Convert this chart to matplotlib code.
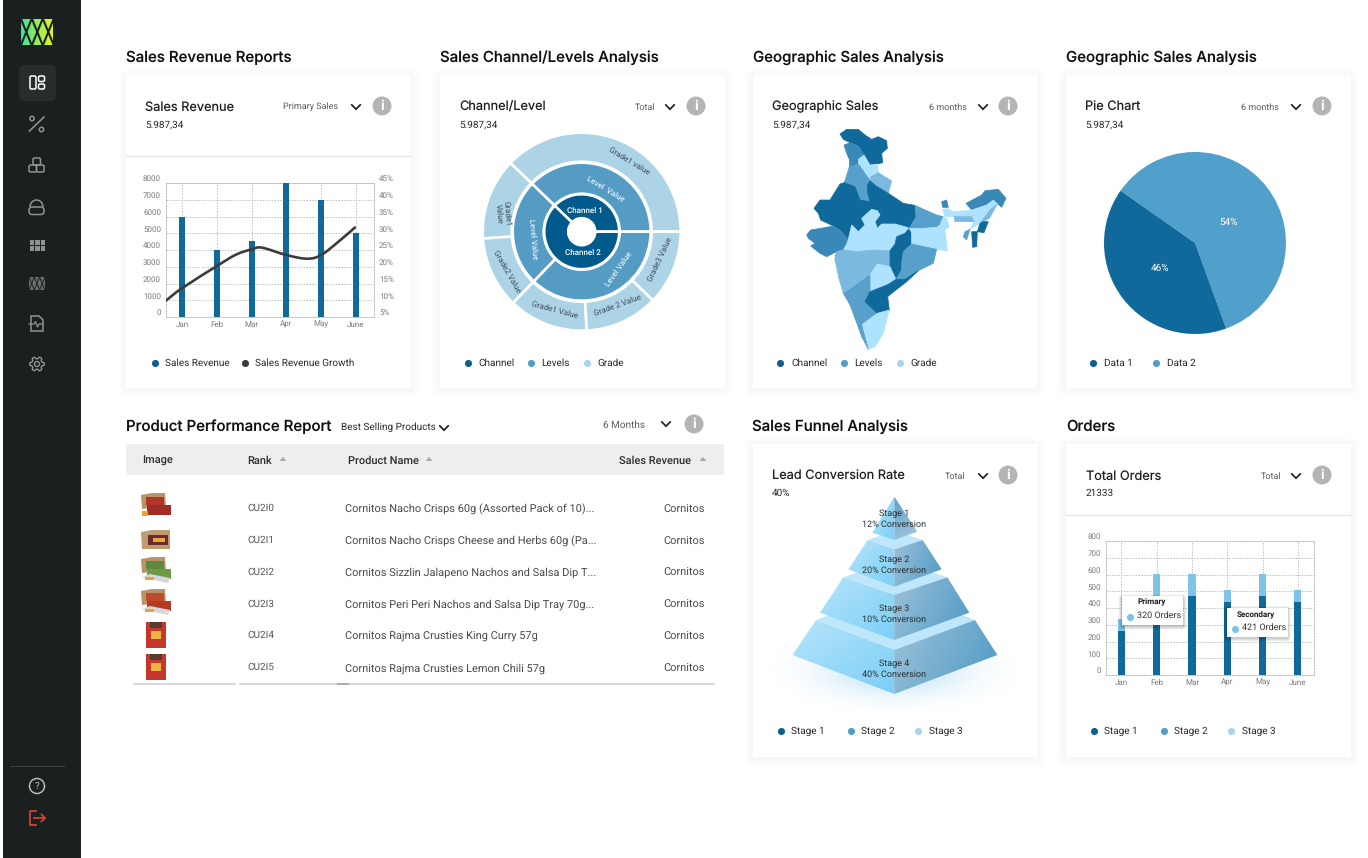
import numpy as np
import matplotlib
matplotlib.use("Agg")
import matplotlib.pyplot as plt
from matplotlib.patches import Rectangle, FancyBboxPatch, Polygon, Circle, PathPatch, Arc
from matplotlib.path import Path
from matplotlib.colors import to_rgb

W, H = 1368, 858
plt.rcParams['font.family'] = ['Roboto', 'DejaVu Sans']
plt.rcParams['text.hinting'] = 'no_hinting'
plt.rcParams['text.hinting_factor'] = 1

# ---------- data ----------
months = ["Jan", "Feb", "Mar", "Apr", "May", "June"]
revenue = [5980, 4000, 4550, 8000, 7000, 5000]
growth_x = [-0.46, 0, 1, 1.55, 2, 2.3, 3, 3.6, 4, 4.5, 4.97]
growth_y = [9.9, 13.6, 20.2, 23.6, 25.2, 25.7, 23.5, 22.4, 23.5, 27.5, 31.7]
rev_ticks = [0, 1000, 2000, 3000, 4000, 5000, 6000, 7000, 8000]
pct_ticks = [5, 10, 15, 20, 25, 30, 35, 40, 45]
orders_primary = [265, 470, 470, 435, 470, 435]
orders_secondary = [70, 130, 130, 75, 130, 75]
orders_ticks = [0, 100, 200, 300, 400, 500, 600, 700, 800]
channel_share = [37.8, 62.2]
level_share = [37.8, 25.0, 37.2]
grade_share = [37.8, 13.3, 11.7, 13.0, 12.0, 12.2]
pie_share = [59.7, 40.3]
pie_labels = ["54%", "46%"]
ranks = ["CU2I0", "CU2I1", "CU2I2", "CU2I3", "CU2I4", "CU2I5"]
products = ["Cornitos Nacho Crisps 60g (Assorted Pack of 10)...",
            "Cornitos Nacho Crisps Cheese and Herbs 60g (Pa...",
            "Cornitos Sizzlin Jalapeno Nachos and Salsa Dip T...",
            "Cornitos Peri Peri Nachos and Salsa Dip Tray 70g...",
            "Cornitos Rajma Crusties King Curry 57g",
            "Cornitos Rajma Crusties Lemon Chili 57g"]
funnel_text = ["Stage 1\n12% Conversion", "Stage 2\n20% Conversion",
               "Stage 3\n10% Conversion", "Stage 4\n40% Conversion"]

MAP_D, MAP_M, MAP_S, MAP_T, MAP_L = '#0F6A9B', '#3A88B8', '#56A0CB', '#7CB9E0', '#AEE3FF'
india_states = [
 (MAP_D, [(150,42),(170,28),(205,28),(225,45),(245,58),(265,50),(290,62),(292,85),(275,100),(278,128),(262,132),(240,135),(222,105),(205,78),(180,68),(160,58)]),
 (MAP_M, [(162,75),(180,68),(205,78),(222,105),(205,118),(205,132),(178,140),(178,118),(170,100)]),
 (MAP_L, [(205,118),(222,105),(240,135),(262,132),(265,158),(243,170),(240,182),(205,132)]),
 (MAP_T, [(243,170),(265,158),(305,183),(295,220),(258,198),(240,182)]),
 (MAP_S, [(178,140),(205,132),(240,182),(232,195),(232,215),(240,245),(210,240),(195,200),(163,188)]),
 (MAP_D, [(150,192),(163,188),(195,200),(210,240),(240,245),(245,268),(215,295),(225,315),(205,335),(185,315),(175,358),(150,330),(130,318),(92,300),(85,280),(72,265),(90,240),(120,240)]),
 (MAP_D, [(232,195),(240,182),(258,198),(295,220),(340,250),(375,256),(378,290),(358,325),(345,320),(315,312),(275,312),(262,325),(255,305),(270,285),(262,272),(245,268),(240,245),(232,215)]),
 (MAP_M, [(50,345),(62,330),(92,325),(130,318),(150,330),(175,358),(170,372),(160,390),(140,395),(135,420),(140,395),(110,410),(90,400),(62,378),(75,370),(55,355)]),
 (MAP_L, [(170,372),(175,358),(185,315),(205,335),(225,315),(215,295),(245,268),(262,272),(270,285),(255,305),(262,325),(275,312),(315,312),(345,320),(358,325),(345,340),(320,350),(315,372),(300,392),(250,390),(200,395),(160,390)]),
 (MAP_T, [(135,420),(140,395),(160,390),(200,395),(250,390),(300,392),(300,440),(262,432),(240,465),(205,490),(170,515),(160,520),(148,480)]),
 (MAP_D, [(320,350),(345,340),(358,325),(365,338),(365,372),(340,395),(335,430),(335,450),(318,478),(300,450),(300,392),(315,372)]),
 (MAP_L, [(262,432),(300,440),(318,478),(295,493),(240,515),(240,465)]),
 (MAP_S, [(375,256),(395,265),(440,285),(460,290),(450,315),(440,322),(400,325),(358,325),(378,290)]),
 (MAP_L, [(358,325),(400,325),(440,322),(415,350),(392,378),(365,372),(365,338)]),
 (MAP_L, [(440,322),(450,315),(460,290),(470,295),(478,320),(465,330),(472,392),(440,388),(392,378),(415,350)]),
 (MAP_S, [(365,372),(392,378),(440,388),(430,430),(385,452),(345,478),(318,478),(335,450),(335,430),(340,395)]),
 (MAP_S, [(170,515),(205,490),(240,465),(240,515),(225,545),(262,580),(235,600),(215,615),(195,595),(180,555),(160,520)]),
 (MAP_D, [(240,515),(295,493),(318,478),(345,478),(385,452),(350,485),(305,520),(293,530),(298,570),(262,580),(225,545)]),
 (MAP_L, [(262,580),(298,570),(280,640),(255,680),(235,688),(215,615),(235,600)]),
 (MAP_S, [(195,595),(215,615),(235,688),(215,650)]),
 (MAP_M, [(528,250),(575,225),(585,212),(625,208),(648,235),(635,262),(610,240),(590,255),(545,270)]),
 (MAP_M, [(455,245),(470,240),(475,262),(458,262)]),
 (MAP_L, [(458,270),(470,265),(490,275),(545,270),(590,255),(610,240),(622,252),(600,270),(570,310),(540,328),(552,305),(545,290),(495,290),(465,290)]),
 (MAP_T, [(492,290),(545,290),(552,305),(495,305)]),
 (MAP_T, [(600,270),(622,252),(598,295),(580,305),(570,310)]),
 (MAP_D, [(570,310),(580,305),(595,305),(582,338),(562,335)]),
 (MAP_D, [(545,335),(562,335),(560,380),(548,382)]),
 (MAP_S, [(525,335),(540,328),(530,360),(520,350)]),
]

# ---------- helpers ----------
fig = plt.figure(figsize=(W/100, H/100), dpi=100, facecolor='white')

def sub(x, y, w, h, z=2):
    return fig.add_axes([x/W, 1-(y+h)/H, w/W, h/H], zorder=z, facecolor='none')

bg = sub(0, 0, W, H, 0); bg.set_xlim(0, W); bg.set_ylim(H, 0); bg.axis('off')
top = sub(0, 0, W, H, 5); top.set_xlim(0, W); top.set_ylim(H, 0); top.axis('off')

TITLE = ['Inter', 'DejaVu Sans']
INK = '#1E1E1E'; GREY = '#5A5A5A'; TICK = '#7B7B7B'; GRID = '#BDBDBD'
DOT_D, DOT_M, DOT_L, DOT_K = '#0D5F8D', '#4F9CC6', '#A8D5EC', '#3B3B3B'

def txt(a, x, y, s, size=6.4, color=INK, ha='left', va='center', **kw):
    a.text(x, y, s, fontsize=size, color=color, ha=ha, va=va, **kw)

def grad(a, pts, c1, c2, ang=90.0, zorder=2):
    pts = np.array(pts, float)
    x0, y0 = pts.min(0); x1, y1 = pts.max(0)
    yy, xx = np.mgrid[0:1:80j, 0:1:80j]
    t = np.cos(np.radians(ang))*xx + np.sin(np.radians(ang))*yy
    t = (t-t.min())/(t.max()-t.min())
    rgb = np.array(to_rgb(c1))[None, None, :]*(1-t[..., None]) + np.array(to_rgb(c2))[None, None, :]*t[..., None]
    xl, yl = a.get_xlim(), a.get_ylim()
    im = a.imshow(rgb, extent=(x0, x1, y1, y0), aspect='auto', zorder=zorder, interpolation='bilinear')
    im.set_clip_path(Polygon(pts, closed=True, transform=a.transData))
    a.set_xlim(xl); a.set_ylim(yl)

def shadow(a, x, y, w, h, steps=8, spread=8, alpha=0.005, dy=1.5, zorder=1, r=1):
    for i in range(steps, 0, -1):
        s = spread*i/steps
        a.add_patch(FancyBboxPatch((x-s, y-s+dy), w+2*s, h+2*s, boxstyle=f"round,pad=0,rounding_size={s+r}",
                                   fc='black', ec='none', alpha=alpha, zorder=zorder))

def card(x, y, w, h):
    shadow(bg, x, y, w, h)
    bg.add_patch(Rectangle((x, y), w, h, fc='white', ec='none', zorder=1.5))

def info(x, y):
    bg.add_patch(Circle((x, y), 9.5, fc='#B4B4B4', ec='none', zorder=3))
    txt(bg, x, y, 'i', 10, 'white', ha='center', weight='bold', zorder=4)

def chevron(x, y):
    bg.plot([x-4.3, x, x+4.3], [y-2.2, y+2.2, y-2.2], color='#222222', lw=1.25, zorder=3,
            solid_capstyle='round', solid_joinstyle='miter')

def legend(y, items):
    for dx, tx, col, s in items:
        bg.scatter([dx], [y], s=26, c=col, zorder=3, linewidths=0)
        txt(bg, tx, y, s, 6.85, '#2A2A2A', zorder=3)

def head(x, y, title, val, sel, selx, chevx, infox):
    txt(bg, x, y+1, title, 9.2, INK, family=TITLE, weight='normal', zorder=3)
    txt(bg, x, y+18.5, val, 7.1, '#2A2A2A', zorder=3)
    txt(bg, selx, y+1, sel, 6.8, GREY, ha='right', zorder=3)
    chevron(chevx, y+1); info(infox, y)

# ---------- sidebar ----------
bg.add_patch(Rectangle((2.5, 0), 78, H, fc='#1A1F1F', ec='none', zorder=1))
bg.add_patch(FancyBboxPatch((19, 65), 37, 36, boxstyle="round,pad=0,rounding_size=5", fc='#272C2C', ec='none', zorder=2))
grad(bg, [(21, 19), (53, 19), (53, 45), (21, 45)], '#3FE39A', '#E8F522', ang=0, zorder=2)
for cx in (21, 32, 43):
    bg.plot([cx, cx+10.6], [19, 45], color='#1A1F1F', lw=1.5, zorder=3)
    bg.plot([cx+10.6, cx], [19, 45], color='#1A1F1F', lw=1.5, zorder=3)
ICON = '#8F9292'
def rrect(x, y, w, h, ec=ICON, fc='none', lw=1.1, r=1.5):
    bg.add_patch(FancyBboxPatch((x, y), w, h, boxstyle=f"round,pad=0,rounding_size={r}", fc=fc, ec=ec, lw=lw, zorder=3))
rrect(30, 76, 6, 13, ec='white'); rrect(38.5, 76, 6, 5.5, ec='white'); rrect(38.5, 84, 6, 5, ec='white')
bg.plot([29.5, 44], [131, 117], color=ICON, lw=1.2, zorder=3)
bg.add_patch(Circle((32, 118.5), 2.2, fc='none', ec=ICON, lw=1.1, zorder=3))
bg.add_patch(Circle((41.5, 129.5), 2.2, fc='none', ec=ICON, lw=1.1, zorder=3))
rrect(33, 158, 7.5, 7); rrect(29, 165, 7.5, 7); rrect(36.5, 165, 7.5, 7)
bg.add_patch(Arc((36.5, 207), 13, 14, theta1=180, theta2=360, ec=ICON, lw=1.1, zorder=3))
rrect(29, 207, 15, 7.5, r=3, lw=1.1)
for i in range(3):
    for j in range(2):
        bg.add_patch(Rectangle((29.5+5.5*i, 240+6*j), 4.8, 5.3, fc=ICON, ec='none', zorder=3))
bg.add_patch(Rectangle((29, 277), 16, 13, fc='#6A6D6D', ec='none', zorder=3))
for cx in (29, 34.3, 39.6):
    bg.plot([cx, cx+5.3], [277, 290], color='#1A1F1F', lw=0.7, zorder=4)
    bg.plot([cx+5.3, cx], [277, 290], color='#1A1F1F', lw=0.7, zorder=4)
bg.add_patch(Polygon([(31, 316), (39, 316), (43, 320), (43, 331), (31, 331)], closed=True, fc='none', ec=ICON, lw=1.1, zorder=3))
bg.plot([29, 34, 35.5, 37.5, 39, 43], [324, 324, 321.5, 327, 324, 324], color=ICON, lw=0.9, zorder=4)
th = np.linspace(0, 2*np.pi, 97)
gr = 6.3 + 1.6*np.clip(2.2*np.cos(6*th), -1, 1)*0.6
bg.add_patch(Polygon(np.c_[37+gr*np.cos(th), 364+gr*np.sin(th)], closed=True, fc='none', ec=ICON, lw=1.0, zorder=3))
bg.add_patch(Circle((37, 364), 2.5, fc='none', ec=ICON, lw=1.0, zorder=3))
bg.plot([10, 64], [766, 766], color='#3A3F3F', lw=0.8, zorder=3)
bg.add_patch(Circle((37, 786), 7.5, fc='none', ec='#B9BBBB', lw=1.1, zorder=3))
txt(bg, 37, 786, '?', 7.5, '#B9BBBB', ha='center', zorder=4)
RED = '#E2452F'
bg.plot([36, 30, 30, 36], [811, 811, 825, 825], color=RED, lw=1.2, zorder=3)
bg.plot([33.5, 45], [818, 818], color=RED, lw=1.2, zorder=3)
bg.plot([41.5, 45, 41.5], [814.5, 818, 821.5], color=RED, lw=1.2, zorder=3)

# ---------- section titles ----------
for x, y, s in [(126, 57.5, "Sales Revenue Reports"), (440, 57.5, "Sales Channel/Levels Analysis"),
                (753, 57.5, "Geographic Sales Analysis"), (1066, 57.5, "Geographic Sales Analysis"),
                (126, 426.5, "Product Performance Report"), (752, 426.5, "Sales Funnel Analysis"), (1066, 426.5, "Orders")]:
    txt(bg, x, y, s, 10.8, '#111111', family=TITLE, weight='medium', zorder=3)

# ---------- cards ----------
for c in [(126, 75, 285, 313), (439.5, 75, 285.5, 313), (752.5, 75, 285, 313), (1065.5, 75, 285, 313),
          (752.5, 444, 285, 313), (1065.5, 444, 285.5, 313)]:
    card(*c)
bg.plot([126, 411], [155.5, 155.5], color='#E8E8E8', lw=1, zorder=2)
bg.plot([1066, 1351], [514.5, 514.5], color='#E8E8E8', lw=1, zorder=2)

head(145, 106, "Sales Revenue", "5.987,34", "Primary Sales", 338, 356, 382)
head(459, 106, "Channel/Level", "5.987,34", "Total", 655, 670, 696)
head(772, 106, "Geographic Sales", "5.987,34", "6 months", 967, 983, 1008)
head(1085, 106, "Pie Chart", "5.987,34", "6 months", 1279, 1296, 1322)
head(772, 475, "Lead Conversion Rate", "40%", "Total", 965, 983, 1008)
head(1086, 475, "Total Orders", "21333", "Total", 1281, 1296, 1322)

legend(363, [(155, 165, DOT_D, "Sales Revenue"), (245, 255, DOT_K, "Sales Revenue Growth")])
legend(363, [(468, 478, DOT_D, "Channel"), (531, 541, DOT_M, "Levels"), (587, 597, DOT_L, "Grade")])
legend(363, [(780, 791, DOT_D, "Channel"), (844, 854, DOT_M, "Levels"), (900, 910, DOT_L, "Grade")])
legend(363, [(1093, 1104, DOT_D, "Data 1"), (1156, 1167, DOT_M, "Data 2")])
legend(731, [(781, 791, DOT_D, "Stage 1"), (851, 861, DOT_M, "Stage 2"), (918, 929, DOT_L, "Stage 3")])
legend(731, [(1094, 1104, DOT_D, "Stage 1"), (1164, 1174, DOT_M, "Stage 2"), (1231, 1242, DOT_L, "Stage 3")])

# ---------- table ----------
bg.add_patch(Rectangle((126, 444), 598, 31, fc='#EEEEEE', ec='none', zorder=2))
for x, s in [(142, "Image"), (247, "Rank"), (348, "Product Name"), (619, "Sales Revenue")]:
    txt(bg, x, 461, s, 7.6, '#2E2E2E', weight='medium', zorder=3)
for x in (283, 429, 703):
    bg.add_patch(Polygon([(x-3.5, 461), (x+3.5, 461), (x, 457)], closed=True, fc='#A9A9A9', ec='none', zorder=3))
txt(bg, 341, 427.5, "Best Selling Products", 7.0, '#2A2A2A', zorder=3)
chevron(444, 428)
txt(bg, 645, 425, "6 Months", 7.0, GREY, ha='right', zorder=3)
chevron(666, 424); info(694, 424)
row_rank = [507.7, 539.7, 571.7, 603.7, 634.7, 666.7]
row_name = [509.7, 541.7, 572.7, 604.7, 636.7, 668.7]
for yr, yn, r, p in zip(row_rank, row_name, ranks, products):
    txt(bg, 247, yr, r, 7.4, '#555555', zorder=3)
    txt(bg, 345, yn, p, 7.6, '#4A4A4A', zorder=3)
    txt(bg, 705, yn, "Cornitos", 7.6, '#4A4A4A', ha='right', zorder=3)
bg.plot([134, 235], [683.5, 683.5], color='#CCD0D6', lw=1.2, zorder=3)
bg.plot([240, 714], [683.5, 683.5], color='#CCD0D6', lw=1.2, zorder=3)
bg.plot([338, 348], [683.5, 683.5], color='#A8ACB2', lw=1.4, zorder=3)
def box_thumb(y, top_c, pack_c, tray=False):
    bg.add_patch(Polygon([(141, y+1), (152, y-1), (165, y-1), (166, y+12), (142, y+15)], closed=True, fc='#B89468', ec='none', zorder=3))
    bg.add_patch(Rectangle((146, y+3), 18, 8, fc=top_c, ec='none', zorder=3))
    bg.add_patch(Rectangle((147, y+11), 24, 10, fc=pack_c, ec='none', zorder=3))
    if tray:
        bg.add_patch(Polygon([(142, y+19), (158, y+23), (168, y+25), (170, y+20), (150, y+16)], closed=True, fc='#D8D8D8', ec='none', zorder=3.5))
        bg.add_patch(Rectangle((145, y+18.5), 9, 3, fc='#E9A33A', ec='none', zorder=3.6))
    else:
        bg.add_patch(Rectangle((142, y+17), 6, 5, fc='#E9A33A', ec='none', zorder=3))
box_thumb(494, '#B2352B', '#A12C27')
bg.add_patch(Polygon([(141, 532), (152, 530), (170, 530), (170, 549), (142, 549)], closed=True, fc='#BD9C70', ec='none', zorder=3))
bg.add_patch(Rectangle((148, 535), 20, 10, fc='#6E2A2A', ec='none', zorder=3))
bg.add_patch(Rectangle((153, 538), 12, 4, fc='#E8A93C', ec='none', zorder=3))
box_thumb(558, '#5C8A3C', '#6E9A46', tray=True)
box_thumb(590, '#C14A2C', '#B53B25', tray=True)
for y0 in (622, 654):
    bg.add_patch(Rectangle((146, y0), 20, 26, fc='#C5362B', ec='none', zorder=3))
    bg.add_patch(Rectangle((150, y0), 12, 6, fc='#5A3A30', ec='none', zorder=3))
    bg.add_patch(Rectangle((151, y0+9), 10, 8, fc='#E9B545', ec='none', zorder=3))

def dashed_axes(a):
    for s in a.spines.values():
        s.set_color(GRID); s.set_linewidth(0.7); s.set_linestyle((0, (1.5, 1.5)))
    a.grid(True, color=GRID, lw=0.7, linestyle=(0, (1.5, 1.5)))
    a.set_axisbelow(True)
    a.tick_params(length=0, labelsize=5.6, labelcolor=TICK, pad=3.6)
    a.tick_params(axis='x', pad=2.6)
    for l in a.get_yticklabels():
        l.set_va('bottom')

# ---------- chart 1 ----------
a1 = sub(166, 183, 208, 134, 2)
xs = np.arange(len(months))
a1.bar(xs, revenue, width=0.17, color='#0F6A9B', zorder=3)
a1.set_xlim(-0.46, 5.52); a1.set_ylim(0, 8000)
a1.set_xticks(xs, months); a1.set_yticks(rev_ticks, [str(v) for v in rev_ticks])
dashed_axes(a1)
a1b = a1.twinx()
a1b.set_ylim(5, 45); a1b.set_yticks(pct_ticks, [f"{v}%" for v in pct_ticks])
a1b.tick_params(length=0, labelsize=5.6, labelcolor=TICK, pad=3.6)
for l in a1b.get_yticklabels():
    l.set_va('bottom')
for s in a1b.spines.values():
    s.set_visible(False)
P = np.c_[growth_x, growth_y]
verts = [tuple(P[0])]; codes = [Path.MOVETO]
for i in range(len(P)-1):
    p0 = P[max(i-1, 0)]; p1 = P[i]; p2 = P[i+1]; p3 = P[min(i+2, len(P)-1)]
    verts += [tuple(p1+(p2-p0)/6), tuple(p2-(p3-p1)/6), tuple(p2)]
    codes += [Path.CURVE4]*3
a1b.add_patch(PathPatch(Path(verts, codes), fc='none', ec='#3B3B3B', lw=1.9, zorder=5, capstyle='round'))

# ---------- sunburst ----------
a2 = sub(481.7, 131.7, 200, 200, 2)
ring = dict(edgecolor='white', linewidth=1.9)
a2.pie(grade_share, radius=99, colors=['#ADD3E6']*6, startangle=0, wedgeprops=dict(width=29, **ring))
a2.pie(level_share, radius=69, colors=['#549CC4']*3, startangle=0, wedgeprops=dict(width=31, **ring))
a2.pie(channel_share, radius=37.5, colors=['#005B8C']*2, startangle=0, wedgeprops=dict(width=24, **ring))
a2.set_xlim(-100, 100); a2.set_ylim(-100, 100); a2.set_aspect('equal'); a2.axis('off')
G2 = '#3F4F5A'
for x, y, s, rot, col, fs, wt in [
    (3.3, 20.7, "Channel 1", 0, 'white', 6.0, 'medium'), (1, -20.7, "Channel 2", 0, 'white', 6.0, 'medium'),
    (24, 43, "Level  Value", -31, 'white', 5.8, 'normal'), (-49, -7, "Level Value", -85, 'white', 5.8, 'normal'),
    (37, -37, "Level Value", 55, 'white', 5.8, 'normal'),
    (47, 71, "Grade1 value", -31, G2, 5.8, 'normal'), (-79, 18, "Grade1\nValue", -85, G2, 5.8, 'normal'),
    (-75, -40, "Grade2 Value", -60, G2, 5.8, 'normal'), (-27, -78, "Grade1 Value", -15, G2, 5.8, 'normal'),
    (36, -74, "Grade 2 Value", 20, G2, 5.8, 'normal'), (78, -28, "Grade3 Value", 65, G2, 5.8, 'normal')]:
    a2.text(x, y, s, rotation=rot, color=col, fontsize=fs, weight=wt, ha='center', va='center',
            rotation_mode='anchor', linespacing=1.1, zorder=6)

# ---------- map ----------
a3 = sub(790, 120, 230, 235, 2)
a3.set_xlim(0, 690); a3.set_ylim(705, 0); a3.axis('off')
for col, pts in india_states:
    a3.add_patch(Polygon(pts, closed=True, fc=col, ec=col, lw=0.5, joinstyle='round'))

# ---------- pie ----------
a4 = sub(1095, 143, 200, 200, 2)
a4.pie(pie_share, radius=91, colors=['#50A0CB', '#0F6A9B'], startangle=-70)
a4.set_xlim(-100, 100); a4.set_ylim(-100, 100); a4.set_aspect('equal'); a4.axis('off')
txt(a4, 34, 21, pie_labels[0], 7, 'white', ha='center')
txt(a4, -35, -25, pie_labels[1], 7, 'white', ha='center')

# ---------- funnel ----------
a5 = sub(760, 490, 270, 230, 2)
a5.set_xlim(-60, 750); a5.set_ylim(690, 0); a5.axis('off')
yy, xx = np.mgrid[0:1:120j, 0:1:200j]
glow = np.exp(-(((xx-0.5)/0.27)**2 + ((yy-0.5)/0.27)**2))
glow = np.clip(glow-0.03, 0, 1)
rgba = np.zeros(glow.shape+(4,)); rgba[..., :3] = to_rgb('#8FD0F0'); rgba[..., 3] = glow*0.6
a5.imshow(rgba, extent=(-40, 726, 680, 390), aspect='auto', zorder=1)
a5.set_xlim(-60, 750); a5.set_ylim(690, 0)
PL1, PL2 = '#B6E4FB', '#7BCFF6'; PR1, PR2 = '#9CC1D9', '#4F9AC5'; PT = '#BFE7FB'
layers = [
    ((38, 495), (343, 612), (652, 495), (108, 390), (343, 480), (585, 390)),
    ((120, 368), (343, 450), (568, 368), (190, 262), (343, 315), (502, 262)),
    ((205, 238), (343, 290), (485, 238), (263, 150), (343, 178), (428, 150)),
]
for bl, bc, br, tl, tc, tr in layers:
    back = (tc[0], 2*tl[1]-tc[1])
    a5.add_patch(Polygon([tl, back, tr, tc], closed=True, fc=PT, ec='none', zorder=2))
    grad(a5, [tl, tc, bc, bl], PL1, PL2, ang=45, zorder=3)
    grad(a5, [tc, tr, br, bc], PR1, PR2, ang=20, zorder=3)
grad(a5, [(343, 20), (343, 150), (277, 128)], PL1, PL2, ang=45, zorder=3)
grad(a5, [(343, 20), (412, 125), (343, 150)], '#5AA0C9', '#A9C8DC', ang=70, zorder=3)
for y, s in zip([88, 226, 373, 536], funnel_text):
    a5.text(343, y, s, fontsize=6.6, color='#2A2F33', ha='center', va='center', linespacing=1.3, zorder=6)

# ---------- orders ----------
a6 = sub(1106, 541, 208, 134, 2)
xo = np.arange(len(months))
a6.bar(xo, orders_primary, width=0.207, color='#0F6A9B', zorder=3)
a6.bar(xo, orders_secondary, width=0.207, bottom=orders_primary, color='#80C3E8', zorder=3)
a6.set_xlim((1106-1121.3)/35.3, (1314-1121.3)/35.3); a6.set_ylim(0, 800)
a6.set_xticks(xo, months); a6.set_yticks(orders_ticks, [str(v) for v in orders_ticks])
dashed_axes(a6)

def tooltip(x, y, w, h, title, value):
    shadow(top, x, y, w, h, steps=4, spread=3, alpha=0.05, dy=1.5, zorder=1, r=0.5)
    top.add_patch(Rectangle((x, y), w, h, fc='white', ec='none', zorder=2))
    txt(top, x+w/2-1, y+6.5, title, 5.6, '#1A1A1A', ha='center', weight='bold', zorder=3)
    top.scatter([x+8.5], [y+21], s=26, c='#7CC1E6', linewidths=0, zorder=3)
    txt(top, x+15, y+19.5, value, 6.3, '#333333', zorder=3)

tooltip(1121.7, 596, 61.6, 29, "Primary", "320 Orders")
tooltip(1226.7, 607.7, 61, 29, "Secondary", "421 Orders")

fig.savefig('out.png', dpi=100, facecolor='white')
